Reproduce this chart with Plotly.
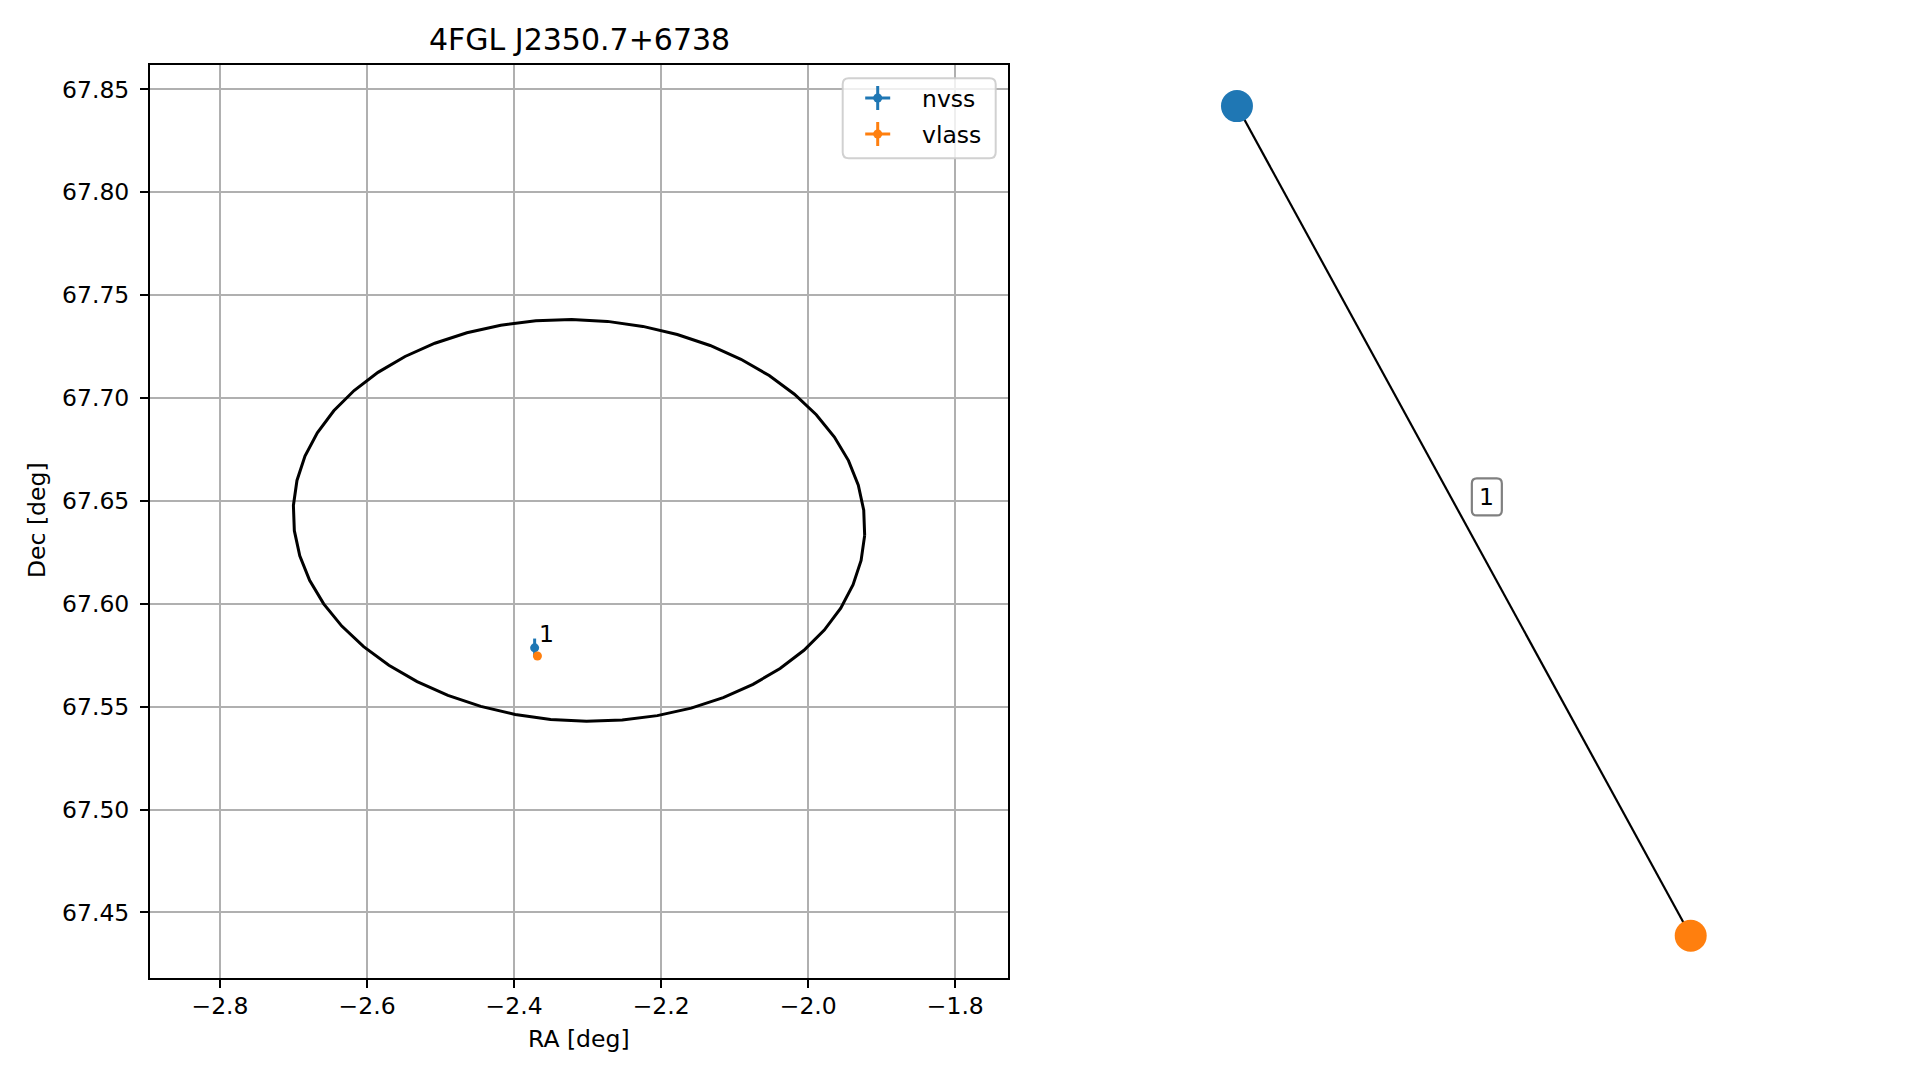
import numpy as np
import plotly.graph_objects as go

W, H = 1919, 1080

# ---------------- data ----------------
title_text = "4FGL J2350.7+6738"
source_names = ["nvss", "vlass"]
source_colors = ["#1f77b4", "#ff7f0e"]
src_ra = [-2.3721, -2.3683]
src_dec = [67.5786, 67.5746]
src_ra_err = [0.002, 0.0008]
src_dec_err = [0.0045, 0.0008]
match_label = "1"

ell_center_ra = -2.3117
ell_center_dec = 67.6405
ell_semi_ra = 0.389
ell_semi_dec = 0.0975
ell_tilt_deg = -3.0
ell_nseg = 50

x_ticks = [-2.8, -2.6, -2.4, -2.2, -2.0, -1.8]
y_ticks = [67.45, 67.50, 67.55, 67.60, 67.65, 67.70, 67.75, 67.80, 67.85]
x_range = [-2.8952, -1.7283]
y_range = [67.4183, 67.8618]

node_names = ["nvss", "vlass"]
node_x = [-0.547, 0.547]
node_y = [1.0, -1.0]
edge_label = "1"
x2_range = [-0.829, 0.8346]
y2_range = [-1.0995, 1.099]

# ---------------- layout geometry (pixels) ----------------
ax1_px = (150, 1008, 65, 977.7)   # left, right, top, bottom
ax2_px = (1120, 1810, 65, 977)

def px2paper_x(px):
    return px / W

def px2paper_y(py):
    return 1 - py / H

FONT = "DejaVu Sans"
fs = 23.5

fig = go.Figure()

# ellipse (polygon, like a sampled contour)
sx = (ax1_px[1] - ax1_px[0]) / (x_range[1] - x_range[0])
sy = (ax1_px[3] - ax1_px[2]) / (y_range[1] - y_range[0])
t = np.linspace(0, 2 * np.pi, ell_nseg + 1)
th = np.deg2rad(ell_tilt_deg)
a_px = ell_semi_ra * sx
b_px = ell_semi_dec * sy
px = a_px * np.cos(t) * np.cos(th) - b_px * np.sin(t) * np.sin(th)
py = a_px * np.cos(t) * np.sin(th) + b_px * np.sin(t) * np.cos(th)
fig.add_trace(go.Scatter(x=ell_center_ra + px / sx, y=ell_center_dec + py / sy,
                         mode="lines", line=dict(color="black", width=3),
                         hoverinfo="skip", showlegend=False, xaxis="x", yaxis="y"))

# sources with error bars
for i, name in enumerate(source_names):
    fig.add_trace(go.Scatter(
        x=[src_ra[i]], y=[src_dec[i]], mode="markers", name=name,
        marker=dict(color=source_colors[i], size=9),
        error_x=dict(type="data", array=[src_ra_err[i]], color=source_colors[i], thickness=3, width=0),
        error_y=dict(type="data", array=[src_dec_err[i]], color=source_colors[i], thickness=3, width=0),
        showlegend=False, xaxis="x", yaxis="y"))

# match label
fig.add_annotation(x=src_ra[0], y=src_dec[0], xref="x", yref="y", text=match_label,
                   showarrow=False, xanchor="left", yanchor="middle",
                   xshift=2, yshift=14, font=dict(family=FONT, size=fs, color="black"))

# right panel graph
fig.add_trace(go.Scatter(x=node_x, y=node_y, mode="lines", line=dict(color="black", width=2.2),
                         hoverinfo="skip", showlegend=False, xaxis="x2", yaxis="y2"))
fig.add_trace(go.Scatter(x=node_x, y=node_y, mode="markers", text=node_names,
                         marker=dict(color=source_colors, size=32, line=dict(width=0)),
                         showlegend=False, xaxis="x2", yaxis="y2"))

mx = (node_x[0] + node_x[1]) / 2
my = (node_y[0] + node_y[1]) / 2
bx, by, hw, hh, r = 23, 24, 15, 18.5, 5
path = (f"M {bx-hw+r},{by-hh} L {bx+hw-r},{by-hh} Q {bx+hw},{by-hh} {bx+hw},{by-hh+r} "
        f"L {bx+hw},{by+hh-r} Q {bx+hw},{by+hh} {bx+hw-r},{by+hh} "
        f"L {bx-hw+r},{by+hh} Q {bx-hw},{by+hh} {bx-hw},{by+hh-r} "
        f"L {bx-hw},{by-hh+r} Q {bx-hw},{by-hh} {bx-hw+r},{by-hh} Z")
fig.add_shape(type="path", xref="x2", yref="y2", xsizemode="pixel", ysizemode="pixel",
              xanchor=mx, yanchor=my, path=path,
              line=dict(color="#808080", width=2.2), fillcolor="white", layer="above")
fig.add_annotation(x=mx, y=my, xref="x2", yref="y2", text=edge_label, showarrow=False,
                   xshift=bx, yshift=by, font=dict(family=FONT, size=fs, color="black"))

# custom legend
lg = (842.7, 995.7, 78.3, 158.3)
lr = 6
lx0, lx1 = px2paper_x(lg[0]), px2paper_x(lg[1])
ly0, ly1 = px2paper_y(lg[3]), px2paper_y(lg[2])
rx, ry = lr / W, lr / H
lpath = (f"M {lx0+rx},{ly0} L {lx1-rx},{ly0} Q {lx1},{ly0} {lx1},{ly0+ry} "
         f"L {lx1},{ly1-ry} Q {lx1},{ly1} {lx1-rx},{ly1} "
         f"L {lx0+rx},{ly1} Q {lx0},{ly1} {lx0},{ly1-ry} "
         f"L {lx0},{ly0+ry} Q {lx0},{ly0} {lx0+rx},{ly0} Z")
fig.add_shape(type="path", xref="paper", yref="paper", path=lpath,
              line=dict(color="rgba(204,204,204,0.9)", width=2),
              fillcolor="rgba(255,255,255,0.8)", layer="above")
row_y = [98, 134]
cx_px = 877.7
for i, name in enumerate(source_names):
    yc = row_y[i]
    col = source_colors[i]
    fig.add_shape(type="line", xref="paper", yref="paper",
                  x0=px2paper_x(cx_px - 12.5), x1=px2paper_x(cx_px + 12.5),
                  y0=px2paper_y(yc), y1=px2paper_y(yc), line=dict(color=col, width=3), layer="above")
    fig.add_shape(type="line", xref="paper", yref="paper",
                  x0=px2paper_x(cx_px), x1=px2paper_x(cx_px),
                  y0=px2paper_y(yc - 12), y1=px2paper_y(yc + 12), line=dict(color=col, width=3), layer="above")
    fig.add_shape(type="circle", xref="paper", yref="paper",
                  x0=px2paper_x(cx_px - 4.5), x1=px2paper_x(cx_px + 4.5),
                  y0=px2paper_y(yc - 4.5), y1=px2paper_y(yc + 4.5),
                  line=dict(width=0), fillcolor=col, layer="above")
    fig.add_annotation(x=px2paper_x(920), y=px2paper_y(yc + 1), xref="paper", yref="paper",
                       text=name, showarrow=False, xanchor="left", yanchor="middle",
                       font=dict(family=FONT, size=fs, color="black"))

# titles
fig.add_annotation(x=px2paper_x((ax1_px[0] + ax1_px[1]) / 2), y=px2paper_y(40), xref="paper", yref="paper",
                   text=title_text, showarrow=False, xanchor="center", yanchor="middle",
                   font=dict(family=FONT, size=30, color="black"))
fig.add_annotation(x=px2paper_x((ax1_px[0] + ax1_px[1]) / 2), y=px2paper_y(1039), xref="paper", yref="paper",
                   text="RA [deg]", showarrow=False, xanchor="center", yanchor="middle",
                   font=dict(family=FONT, size=fs, color="black"))
fig.add_annotation(x=px2paper_x(37), y=px2paper_y(520), xref="paper", yref="paper",
                   text="Dec [deg]", showarrow=False, xanchor="center", yanchor="middle", textangle=-90,
                   font=dict(family=FONT, size=fs, color="black"))

axis_common = dict(showgrid=True, gridcolor="#b0b0b0", gridwidth=2, zeroline=False,
                   showline=True, linecolor="black", linewidth=2, mirror=True,
                   ticks="outside", ticklen=8, tickwidth=2, tickcolor="black",
                   tickfont=dict(family=FONT, size=fs, color="black"))

fig.update_layout(
    width=W, height=H, margin=dict(l=0, r=0, t=0, b=0),
    paper_bgcolor="white", plot_bgcolor="white", showlegend=False,
    xaxis=dict(domain=[px2paper_x(ax1_px[0]), px2paper_x(ax1_px[1])], range=x_range,
               tickvals=x_ticks, ticktext=[f"{v:.1f}".replace("-", "\u2212") for v in x_ticks],
               anchor="y", ticklabelstandoff=-2, **axis_common),
    yaxis=dict(domain=[px2paper_y(ax1_px[3]), px2paper_y(ax1_px[2])], range=y_range,
               tickvals=y_ticks, ticktext=[f"{v:.2f}" for v in y_ticks],
               anchor="x", ticklabelstandoff=6, **axis_common),
    xaxis2=dict(domain=[px2paper_x(ax2_px[0]), px2paper_x(ax2_px[1])], range=x2_range,
                visible=False, anchor="y2"),
    yaxis2=dict(domain=[px2paper_y(ax2_px[3]), px2paper_y(ax2_px[2])], range=y2_range,
                visible=False, anchor="x2"),
)

fig.write_html("out.html", config={"displayModeBar": False},
               post_script="document.body.style.margin='0px';")
